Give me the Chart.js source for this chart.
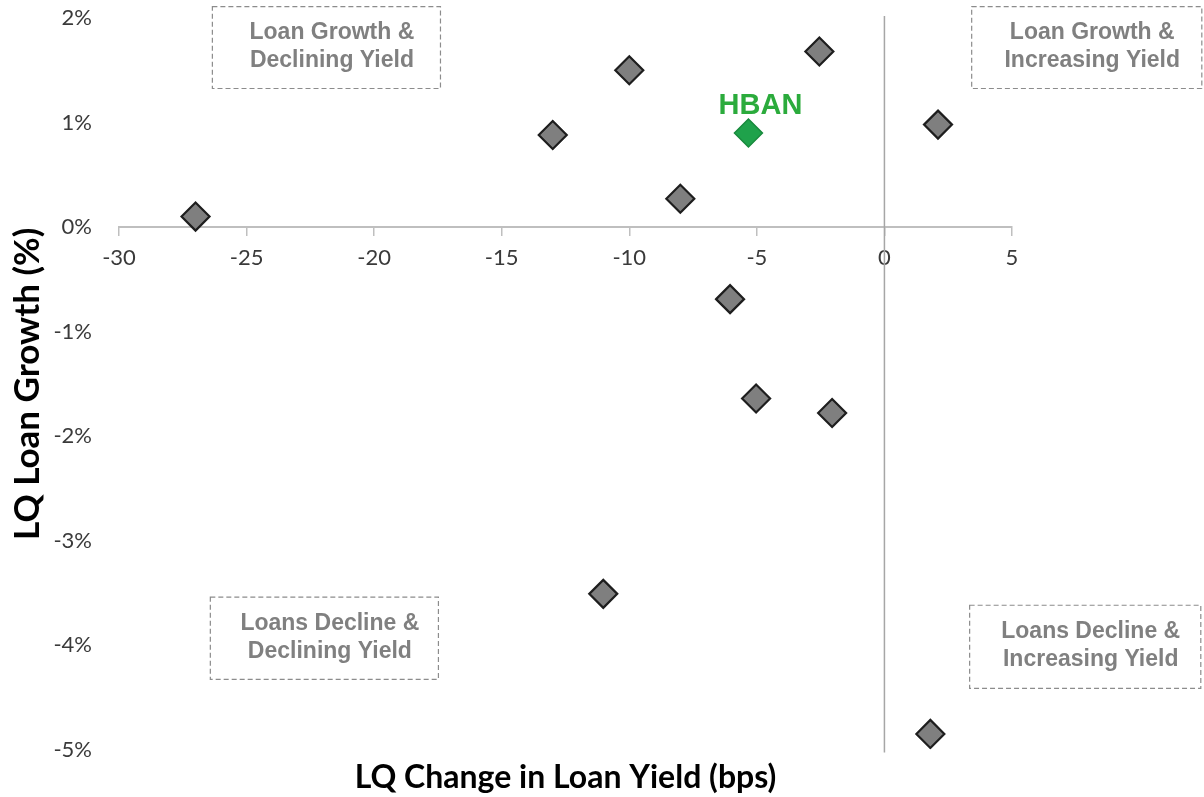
<!DOCTYPE html>
<html><head><meta charset="utf-8">
<script src="https://cdn.jsdelivr.net/npm/chart.js@4.4.1/dist/chart.umd.min.js"></script>
<style>html,body{margin:0;padding:0;background:#fff}</style>
</head><body>
<canvas id="c" width="1204" height="797"></canvas>
<script>
// ---- data ----
const peerYieldBps   = [-27.0, -13.0, -10.0, -2.55, 2.1, -8.0, -6.05, -5.03, -2.05, -11.02, 1.8];
const peerLoanGrowth = [0.10, 0.88, 1.50, 1.68, 0.98, 0.27, -0.69, -1.64, -1.78, -3.51, -4.85];
const hbanYieldBps   = [-5.33];
const hbanLoanGrowth = [0.90];
const highlightName  = 'HBAN';
const xTickValues = [-30, -25, -20, -15, -10, -5, 0, 5];
const yTickValues = [2, 1, 0, -1, -2, -3, -4, -5];
const xTitle = 'LQ Change in Loan Yield (bps)';
const yTitle = 'LQ Loan Growth (%)';
const quadrantLines = [
  ['Loan Growth &', 'Declining Yield'],
  ['Loan Growth &', 'Increasing Yield'],
  ['Loans Decline &', 'Declining Yield'],
  ['Loans Decline &', 'Increasing Yield']
];

const toPoints = (xs, ys) => xs.map((x, i) => ({x, y: ys[i]}));

// quadrant boxes expressed in axis units
const quadrantBoxes = [
  {x1: -26.36, x2: -17.42, y1: 2.114, y2: 1.33},
  {x1: 3.40, x2: 12.42, y1: 2.114, y2: 1.33},
  {x1: -26.44, x2: -17.50, y1: -3.537, y2: -4.323},
  {x1: 3.32, x2: 12.38, y1: -3.614, y2: -4.409}
];

const overlay = {
  id: 'overlay',
  beforeDatasetsDraw(chart) {
    const {ctx, scales: {x, y}, chartArea} = chart;
    ctx.save();
    ctx.strokeStyle = '#a6a6a6';
    ctx.lineWidth = 1.5;
    const x0 = x.getPixelForValue(0);
    ctx.beginPath();
    ctx.moveTo(x0, chartArea.top - 2);
    ctx.lineTo(x0, chartArea.bottom + 3);
    ctx.stroke();
    ctx.restore();
  },
  afterDatasetsDraw(chart) {
    const {ctx, scales: {x, y}} = chart;
    ctx.save();
    quadrantBoxes.forEach((b, i) => {
      const L = x.getPixelForValue(b.x1), R = x.getPixelForValue(b.x2);
      const T = y.getPixelForValue(b.y1), B = y.getPixelForValue(b.y2);
      ctx.setLineDash([5, 3]);
      ctx.strokeStyle = '#8c8c8c';
      ctx.lineWidth = 1.2;
      ctx.strokeRect(L + 0.5, T + 0.5, R - L, B - T);
      ctx.setLineDash([]);
      ctx.fillStyle = '#808080';
      ctx.font = 'bold 23px "Liberation Sans", Arial, sans-serif';
      ctx.textAlign = 'center';
      ctx.textBaseline = 'middle';
      const cx = (L + R) / 2 + 6;
      quadrantLines[i].forEach((t, k) => ctx.fillText(t, cx, T + 27 + k * 27.5));
    });
    // highlight label
    const meta = chart.getDatasetMeta(1);
    const pt = meta.data[0];
    ctx.fillStyle = '#2bab3c';
    ctx.font = 'bold 29px "Liberation Sans", Arial, sans-serif';
    ctx.textAlign = 'center';
    ctx.textBaseline = 'middle';
    ctx.fillText(highlightName, pt.x + 12, pt.y - 27);
    ctx.restore();
  }
};

new Chart(document.getElementById('c'), {
  type: 'scatter',
  data: {
    datasets: [
      {
        label: 'Peers',
        data: toPoints(peerYieldBps, peerLoanGrowth),
        pointStyle: 'rectRot',
        pointRadius: 14,
        pointHoverRadius: 14,
        backgroundColor: '#7f7f7f',
        borderColor: '#1e1e1e',
        borderWidth: 2.2
      },
      {
        label: highlightName,
        data: toPoints(hbanYieldBps, hbanLoanGrowth),
        pointStyle: 'rectRot',
        pointRadius: 14,
        pointHoverRadius: 14,
        backgroundColor: '#1fa24b',
        borderColor: '#188a3d',
        borderWidth: 1.5
      }
    ]
  },
  options: {
    responsive: false,
    animation: false,
    devicePixelRatio: 1,
    layout: {padding: {top: 18, right: 192, bottom: 0, left: 0}},
    plugins: {
      legend: {display: false},
      tooltip: {enabled: false},
      title: {
        display: true,
        position: 'bottom',
        fullSize: false,
        text: xTitle,
        color: '#000',
        font: {family: 'Lato, "Open Sans", sans-serif', size: 32, weight: 'bold'},
        padding: {top: 9, bottom: 0}
      }
    },
    scales: {
      x: {
        type: 'linear',
        position: {y: 0},
        min: -30, max: 5,
        afterBuildTicks: s => { s.ticks = xTickValues.map(v => ({value: v})); },
        afterFit: s => { s.height = 0; },
        grid: {drawOnChartArea: false, drawTicks: true, tickLength: 8, color: '#bfbfbf', lineWidth: 1.5},
        border: {display: true, color: '#bfbfbf', width: 2},
        ticks: {color: '#3a3a3a', font: {family: 'Lato, sans-serif', size: 22}, padding: 10, maxRotation: 0}
      },
      y: {
        type: 'linear',
        position: 'left',
        min: -5, max: 2,
        afterBuildTicks: s => { s.ticks = yTickValues.map(v => ({value: v})); },
        afterFit: s => { s.width = 119; },
        grid: {display: true, drawOnChartArea: false, drawTicks: true, tickLength: 24, color: 'rgba(0,0,0,0)'},
        border: {display: false},
        ticks: {color: '#3a3a3a', font: {family: 'Lato, sans-serif', size: 22}, padding: 3, callback: v => v + '%'},
        title: {
          display: true,
          text: yTitle,
          color: '#000',
          font: {family: 'Lato, "Open Sans", sans-serif', size: 35, weight: 'bold'},
          padding: {top: 7, bottom: 0}
        }
      }
    }
  },
  plugins: [overlay]
});
</script>
</body></html>
